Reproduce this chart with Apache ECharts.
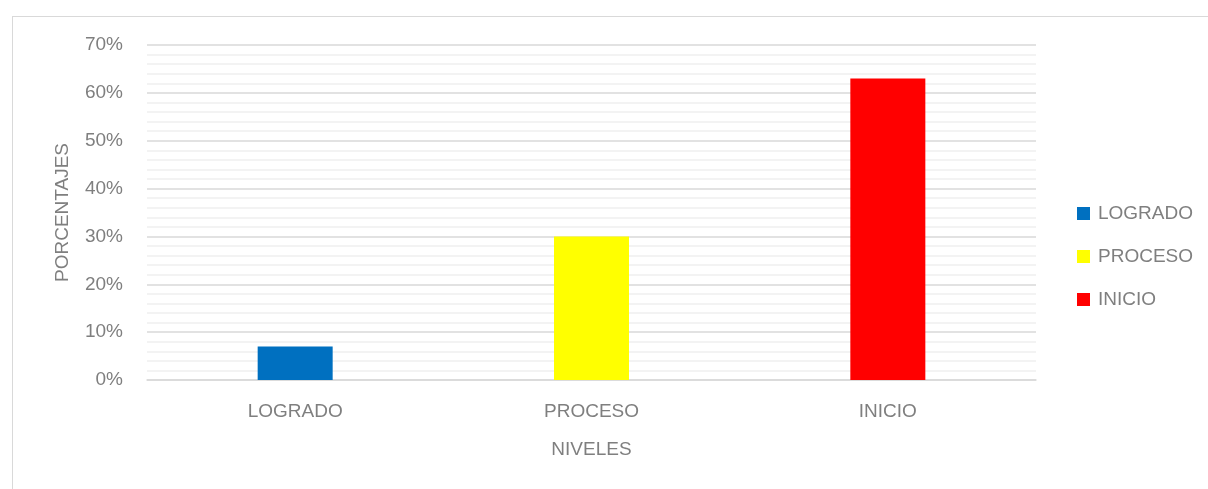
<!DOCTYPE html>
<html><head><meta charset="utf-8">
<script src="https://cdn.jsdelivr.net/npm/echarts@6/dist/echarts.min.js"></script>
<style>
html,body{margin:0;padding:0;background:#fff;overflow:hidden}
#frame{position:absolute;left:12px;top:16px;width:1300px;height:600px;border:1.5px solid #d9d9d9;box-sizing:border-box}
#c{position:absolute;left:0;top:0;width:1208px;height:489px}
</style></head>
<body>
<div id="frame"></div>
<div id="c"></div>
<script>
const categories = ['LOGRADO', 'PROCESO', 'INICIO'];
const seriesNames = ['LOGRADO', 'PROCESO', 'INICIO'];
const values = [0.07, 0.30, 0.63];
const colors = ['#0070c0', '#ffff00', '#ff0000'];
const FONT = '"Liberation Sans", Arial, sans-serif';
const FS = 19;
const TXT = '#7f7f7f';

const chart = echarts.init(document.getElementById('c'));
const series = seriesNames.map((n, i) => ({
  name: n,
  type: 'bar',
  stack: 'all',
  barWidth: 75,
  itemStyle: { color: colors[i] },
  data: categories.map((c, j) => (j === i ? values[i] : null))
}));

chart.setOption({
  animation: false,
  textStyle: { fontFamily: FONT },
  grid: { left: 147, right: 172, top: 45, bottom: 109, containLabel: false },
  legend: {
    orient: 'vertical',
    left: 1072, top: 199,
    itemWidth: 13, itemHeight: 13, itemGap: 24,
    icon: 'rect',
    data: seriesNames,
    textStyle: { fontFamily: FONT, fontSize: FS, color: TXT, padding: [0, 0, 0, 3] }
  },
  xAxis: {
    type: 'category',
    data: categories,
    name: 'NIVELES',
    nameLocation: 'middle',
    nameGap: 60,
    nameTextStyle: { fontFamily: FONT, fontSize: FS, color: TXT },
    axisLine: { lineStyle: { color: '#d9d9d9', width: 1.5 } },
    axisTick: { show: false },
    axisLabel: { fontFamily: FONT, fontSize: FS, color: TXT, margin: 22 }
  },
  yAxis: {
    type: 'value',
    min: 0, max: 0.7, interval: 0.1,
    name: 'PORCENTAJES',
    nameLocation: 'middle',
    nameGap: 75,
    nameRotate: 90,
    nameTextStyle: { fontFamily: FONT, fontSize: FS, color: TXT },
    axisLine: { show: false },
    axisTick: { show: false },
    axisLabel: { fontFamily: FONT, fontSize: FS, color: TXT, margin: 24,
      formatter: v => Math.round(v * 100) + '%' },
    splitLine: { lineStyle: { color: '#d9d9d9', width: 1.5 } },
    minorTick: { show: false, splitNumber: 5 },
    minorSplitLine: { show: true, lineStyle: { color: '#efefef', width: 1.5 } }
  },
  series: series
});
</script>
</body></html>
